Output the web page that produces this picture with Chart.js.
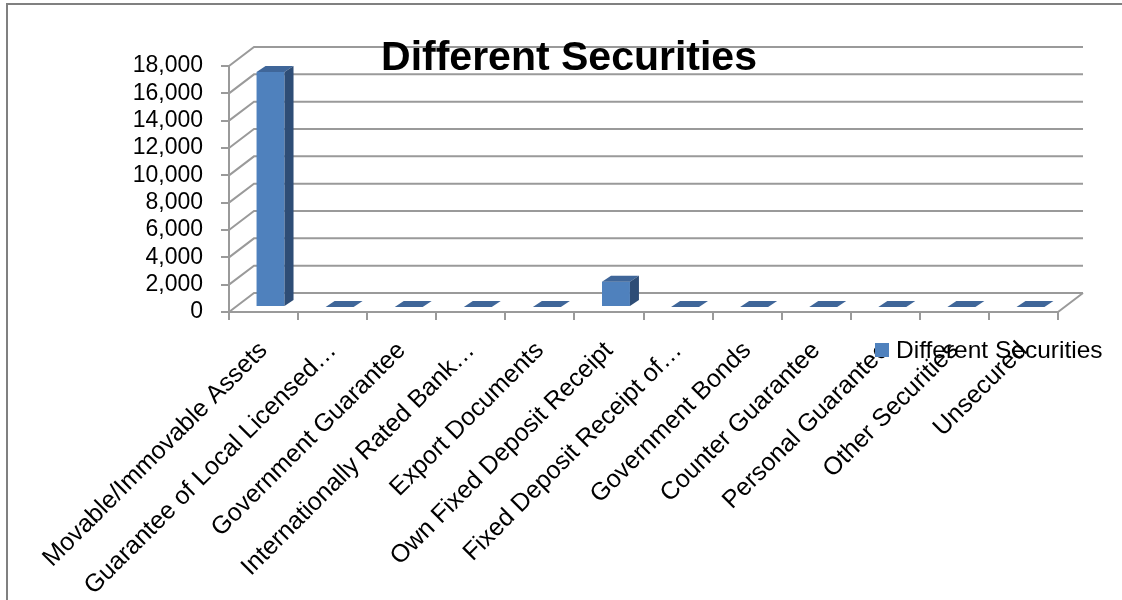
<!DOCTYPE html>
<html><head><meta charset="utf-8">
<script src="https://cdn.jsdelivr.net/npm/chart.js@4/dist/chart.umd.min.js"></script>
<style>html,body{margin:0;padding:0;background:#fff}#wrap{width:1122px;height:600px;position:relative}</style>
</head><body><div id="wrap"><canvas id="c" width="1122" height="600"></canvas></div>
<script>
const categories = [
  'Movable/Immovable Assets',
  'Guarantee of Local Licensed…',
  'Government Guarantee',
  'Internationally Rated Bank…',
  'Export Documents',
  'Own Fixed Deposit Receipt',
  'Fixed Deposit Receipt of…',
  'Government Bonds',
  'Counter Guarantee',
  'Personal Guarantee',
  'Other Securities',
  'Unsecured'
];
const values = [17200, 0, 0, 0, 0, 1850, 0, 0, 0, 0, 0, 0];
const seriesName = 'Different Securities';
const chartTitle = 'Different Securities';
const yMin = 0, yMax = 18000, yStep = 2000;

const FONT = '"Liberation Sans", Arial, sans-serif';
const GRID = '#9a9a9a';
const FRONT = '#4f81bd', TOP = '#3f6699', SIDE = '#2e4d76';
// 3D depth geometry
const DX = 25, DY = -19;          // wall depth
const BX = 7, BY = -5;            // bar front offset
const BDX = 9, BDY = -6;          // bar depth

const threeD = {
  id: 'threeD',
  beforeDraw(chart) {
    const ctx = chart.ctx;
    ctx.save();
    ctx.strokeStyle = '#808080';
    ctx.lineWidth = 2;
    ctx.beginPath();
    ctx.moveTo(7, 600); ctx.lineTo(7, 4); ctx.lineTo(1122, 4);
    ctx.stroke();
    ctx.restore();
  },
  beforeDatasetsDraw(chart) {
    const ctx = chart.ctx, a = chart.chartArea, ys = chart.scales.y;
    ctx.save();
    ctx.strokeStyle = GRID; ctx.lineWidth = 2;
    ctx.beginPath();
    ys.ticks.forEach(t => {
      const y = ys.getPixelForValue(t.value);
      ctx.moveTo(a.left, y); ctx.lineTo(a.left + DX, y + DY);
      ctx.lineTo(a.right + DX, y + DY);
    });
    const y0 = ys.getPixelForValue(0);
    ctx.moveTo(a.right, y0); ctx.lineTo(a.right + DX, y0 + DY);
    ctx.stroke();
    ctx.restore();
  },
  beforeDatasetDraw(chart) {
    chart.ctx.save();
    chart.ctx.translate(BX, BY);
  },
  afterDatasetDraw(chart, args) {
    const ctx = chart.ctx;
    const meta = args.meta;
    meta.data.forEach(bar => {
      const L = bar.x - bar.width / 2, R = bar.x + bar.width / 2;
      const T = Math.min(bar.y, bar.base), B = Math.max(bar.y, bar.base);
      ctx.fillStyle = TOP;
      ctx.beginPath();
      ctx.moveTo(L, T); ctx.lineTo(R, T); ctx.lineTo(R + BDX, T + BDY); ctx.lineTo(L + BDX, T + BDY);
      ctx.closePath(); ctx.fill();
      if (B - T > 0.5) {
        ctx.fillStyle = SIDE;
        ctx.beginPath();
        ctx.moveTo(R, T); ctx.lineTo(R + BDX, T + BDY); ctx.lineTo(R + BDX, B + BDY); ctx.lineTo(R, B);
        ctx.closePath(); ctx.fill();
      }
    });
    ctx.restore();
  },
  afterDraw(chart) {
    const ctx = chart.ctx;
    ctx.save();
    ctx.fillStyle = '#000';
    ctx.font = 'bold 41px ' + FONT;
    ctx.textAlign = 'center'; ctx.textBaseline = 'alphabetic';
    ctx.fillText(chartTitle, 569, 70);
    // legend
    const ds = chart.data.datasets[0];
    ctx.fillStyle = ds.backgroundColor;
    ctx.fillRect(875, 343, 14, 14);
    ctx.fillStyle = '#000';
    ctx.font = '24.5px ' + FONT;
    ctx.textAlign = 'left'; ctx.textBaseline = 'middle';
    ctx.fillText(ds.label, 896, 351);
    ctx.restore();
  }
};

new Chart(document.getElementById('c'), {
  type: 'bar',
  data: {
    labels: categories,
    datasets: [{ label: seriesName, data: values, backgroundColor: FRONT, borderWidth: 0,
      barPercentage: 0.405, categoryPercentage: 1 }]
  },
  options: {
    responsive: false, animation: false, devicePixelRatio: 1,
    layout: { padding: { left: 0, top: 66, right: 64, bottom: 0 } },
    plugins: { legend: { display: false }, title: { display: false }, tooltip: { enabled: false } },
    scales: {
      y: {
        min: yMin, max: yMax,
        ticks: { stepSize: yStep, autoSkip: false, color: '#000', font: { family: FONT, size: 23 }, padding: 18,
          callback: v => v.toLocaleString('en-US') },
        grid: { drawOnChartArea: false, drawTicks: true, tickLength: 8, color: GRID, lineWidth: 2 },
        border: { display: true, color: GRID, width: 2 },
        afterFit: s => { s.width = 229; }
      },
      x: {
        ticks: { color: '#000', font: { family: FONT, size: 25 }, maxRotation: 45, minRotation: 45,
          autoSkip: false, padding: 16, labelOffset: 0 },
        grid: { offset: true, drawOnChartArea: false, drawTicks: true, tickLength: 8, color: GRID, lineWidth: 2 },
        border: { display: true, color: GRID, width: 2 },
        afterFit: s => { s.height = 288; }
      }
    }
  },
  plugins: [threeD]
});
</script></body></html>
